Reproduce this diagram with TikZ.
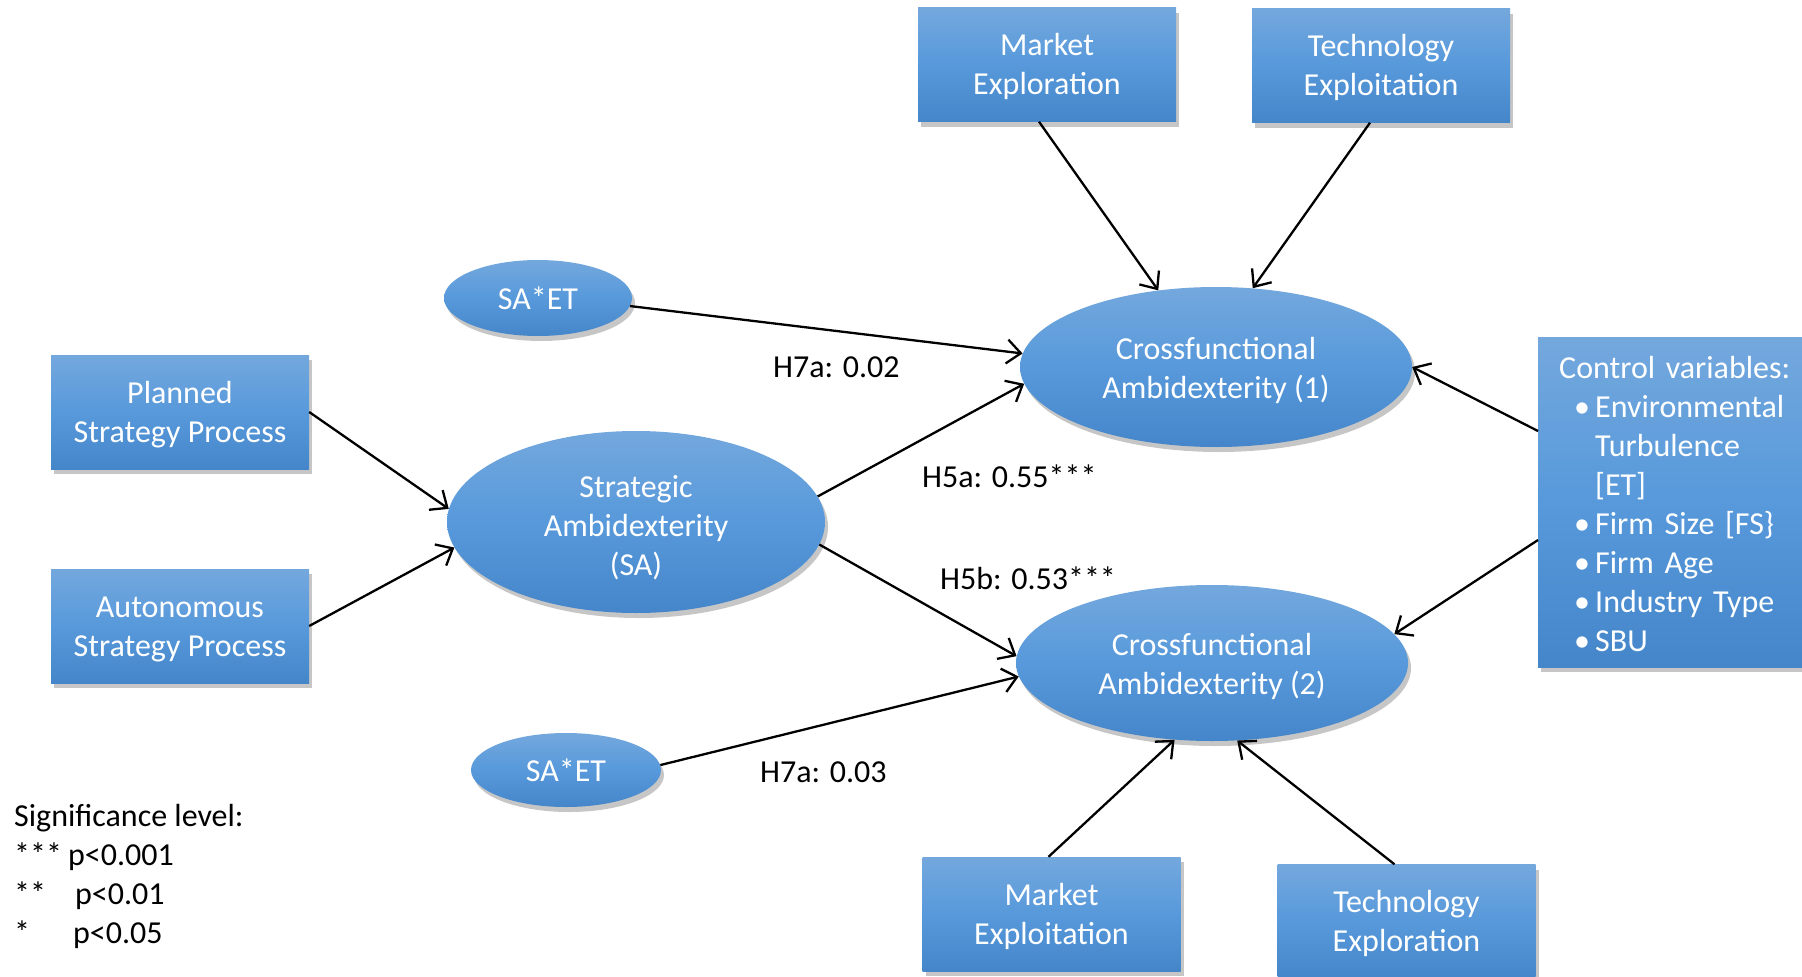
\documentclass[tikz,border=0pt]{standalone}
\usepackage{fontspec}
\setmainfont{Carlito}
\usetikzlibrary{shapes.geometric,shadows,arrows.meta,calc}
\definecolor{shadetop}{RGB}{116,168,221}
\definecolor{shademid}{RGB}{87,153,219}
\definecolor{shadebot}{RGB}{68,134,201}
% a taller first line pushes a text block down inside a fixed-size shape
\newcommand{\toppad}[1]{\rule{0pt}{#1}}
\begin{document}
\begin{tikzpicture}[x=1pt,y=-1pt,
  every node/.style={font=\fontsize{32}{39}\selectfont},
  fillstyle/.style={top color=shadetop, bottom color=shadebot, middle color=shademid,
    text=white, align=center, inner sep=0pt,
    drop shadow={shadow xshift=3pt,shadow yshift=-5pt,opacity=0.45}},
  box/.style={fillstyle, rectangle, minimum width=258pt, minimum height=114pt},
  oval/.style={fillstyle, ellipse},
  link/.style={line width=2.3pt, -{Straight Barb[length=14pt,width=24pt]}},
  lbl/.style={anchor=west, inner sep=0pt, text=black}]

\path[use as bounding box] (0,0) rectangle (1802,977);
\clip (0,0) rectangle (1802,977);

% rectangular constructs
\node[box] (mex) at (1047,64.5) {\toppad{26.8pt}Market\\Exploration};
\node[box] (tex) at (1381,65.5) {\toppad{26.8pt}Technology\\Exploitation};
\node[box] (planned) at (180,412) {\toppad{26.8pt}Planned\\Strategy Process};
\node[box] (auto) at (180,626) {\toppad{26.8pt}Autonomous\\Strategy Process};
\node[box] (mxt) at (1051.5,914) {\toppad{26.8pt}Market\\Exploitation};
\node[box] (txr) at (1406.5,921.5) {\toppad{26.8pt}Technology\\Exploration};
\node[box, anchor=west, text width=248pt, inner xsep=21pt, minimum height=330pt, align=left]
  (ctrl) at (1538,502) {\toppad{26.8pt}Control variables:\\
  \makebox[36pt][l]{\hspace{15pt}•}Environmental\\
  \hspace*{36pt}Turbulence\\
  \hspace*{36pt}[ET]\\
  \makebox[36pt][l]{\hspace{15pt}•}Firm Size [FS\}\\
  \makebox[36pt][l]{\hspace{15pt}•}Firm Age\\
  \makebox[36pt][l]{\hspace{15pt}•}Industry Type\\
  \makebox[36pt][l]{\hspace{15pt}•}SBU};

% latent constructs
\node[oval, minimum width=188pt, minimum height=76pt] (saetA) at (538,298) {SA*ET};
\node[oval, minimum width=190pt, minimum height=74pt] (saetB) at (566,770) {SA*ET};
\node[oval, minimum width=392pt, minimum height=160pt] (caA) at (1216,367) {\toppad{29pt}Crossfunctional\\Ambidexterity (1)};
\node[oval, minimum width=392pt, minimum height=156pt] (caB) at (1212,663) {\toppad{29pt}Crossfunctional\\Ambidexterity (2)};
\node[oval, minimum width=378pt, minimum height=182pt] (sa) at (636,522) {\toppad{33.6pt}Strategic\\Ambidexterity\\(SA)};

% paths
\draw[link] ($(mex.south)+(-8,0)$) -- (caA.127.5);
\draw[link] ($(tex.south)+(-11,0)$) -- (caA.65.7);
\draw[link] (saetA.-5) -- (caA.176.2);
\draw[link] (sa.8) -- (caA.185.5);
\draw[link] (sa.-7.1) -- (caB.178.2);
\draw[link] (saetB.3) -- (caB.184.4);
\draw[link] (planned.east) -- (sa.176.2);
\draw[link] (auto.east) -- (sa.188.5);
\draw[link] ($(ctrl.west)+(0,-71)$) -- (caA.0);
\draw[link] ($(ctrl.west)+(0,38)$) -- (caB.9);
\draw[link] ($(mxt.north)+(-3,0)$) -- (caB.244.3);
\draw[link] ($(txr.north)+(-12,0)$) -- (caB.288.2);

% path coefficients
\node[lbl] (hA) at (773,367) {H7a: 0.02};
\node[lbl] (hB) at (922,476) {H5a: 0.55***};
\node[lbl] (hC) at (940,578) {H5b: 0.53***};
\node[lbl] (hD) at (760,772) {H7a: 0.03};

% legend
\node[lbl, align=left] (legend) at (14,876.5) {Significance level:\\
  \makebox[54pt][l]{***}p<0.001\\
  \makebox[61pt][l]{**}p<0.01\\
  \makebox[59pt][l]{*}p<0.05};
\end{tikzpicture}
\end{document}
